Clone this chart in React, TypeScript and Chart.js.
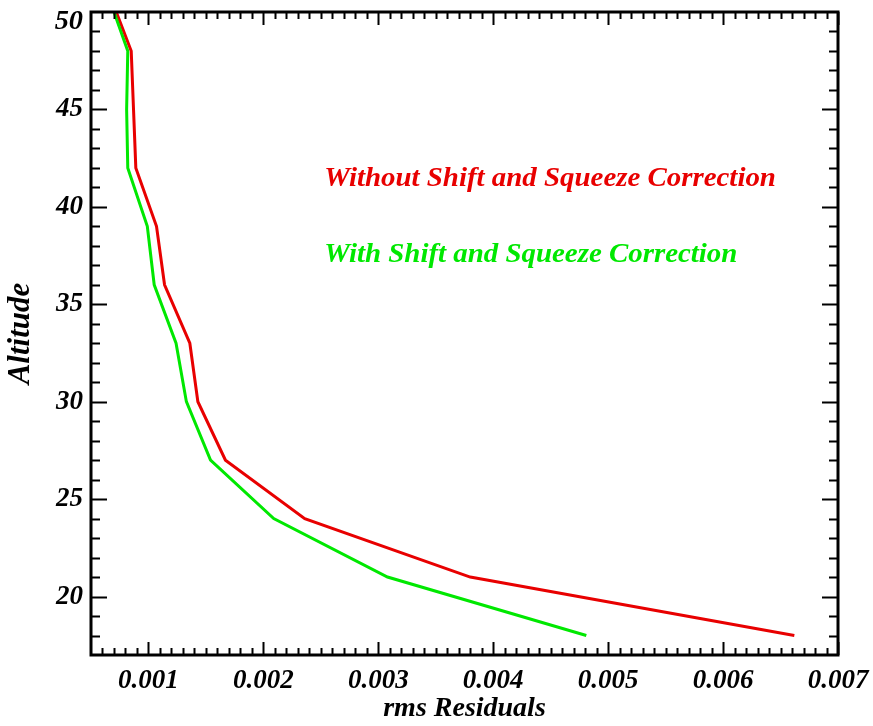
import React, { useEffect, useRef } from "react";
import { Chart, registerables } from "chart.js";

Chart.register(...registerables);

// ---- data ----
const altitudes = [50, 48, 45, 42, 39, 36, 33, 30, 27, 24, 21, 18];
const rmsWithout = [0.00072, 0.00085, 0.00087, 0.00089, 0.00107, 0.00114, 0.00136, 0.00143, 0.00167, 0.00236, 0.0038, 0.00662];
const rmsWith = [0.0007, 0.00082, 0.00081, 0.00082, 0.00099, 0.00105, 0.00124, 0.00133, 0.00154, 0.00209, 0.00308, 0.00481];

const xTickValues = [0.001, 0.002, 0.003, 0.004, 0.005, 0.006, 0.007];
const xTickLabels = ["0.001", "0.002", "0.003", "0.004", "0.005", "0.006", "0.007"];
const yTickValues = [20, 25, 30, 35, 40, 45, 50];
const yTickLabels = ["20", "25", "30", "35", "40", "45", "50"];

const xMin = 0.0005;
const xMax = 0.007;
const yMin = 17;
const yMax = 50;

const labelWithout = "Without Shift and Squeeze Correction";
const labelWith = "With Shift and Squeeze Correction";
const xTitle = "rms Residuals";
const yTitle = "Altitude";

const RED = "rgb(232,0,0)";
const GREEN = "rgb(0,232,0)";
const FAMILY = '"Liberation Serif", "Times New Roman", Times, serif';

function stretchedText(ctx: CanvasRenderingContext2D, text: string, x: number, y: number, sx: number) {
  ctx.save();
  ctx.translate(x, y);
  ctx.scale(sx, 1);
  ctx.fillText(text, 0, 0);
  ctx.restore();
}

const framePlugin = {
  id: "idlFrame",
  afterDatasetsDraw(chart: any) {
    const { ctx, chartArea, scales } = chart;
    const { left, right, top, bottom } = chartArea;
    const x = scales.x;
    const y = scales.y;
    ctx.save();
    ctx.strokeStyle = "#000";
    ctx.lineWidth = 2;
    ctx.beginPath();
    // x ticks: minor every 0.0001, major every 0.001
    for (let i = 6; i <= 70; i++) {
      const v = i / 10000;
      const px = Math.round(x.getPixelForValue(v)) + 0.5;
      const major = i % 10 === 0;
      const len = major ? 13 : 7;
      ctx.moveTo(px, bottom);
      ctx.lineTo(px, bottom - len);
      ctx.moveTo(px, top);
      ctx.lineTo(px, top + len);
    }
    // y ticks: minor every 1, major every 5
    for (let a = 18; a <= 49; a++) {
      const py = Math.round(y.getPixelForValue(a)) + 0.5;
      const major = a % 5 === 0;
      const len = major ? 16 : 9;
      ctx.moveTo(left, py);
      ctx.lineTo(left + len, py);
      ctx.moveTo(right, py);
      ctx.lineTo(right - len, py);
    }
    ctx.stroke();
    ctx.lineWidth = 3;
    ctx.strokeRect(left, top, right - left, bottom - top);

    // top y label sits below its tick in the reference
    ctx.fillStyle = "#000";
    ctx.font = `italic bold 27px ${FAMILY}`;
    ctx.textAlign = "right";
    ctx.textBaseline = "alphabetic";
    stretchedText(ctx, yTickLabels[yTickLabels.length - 1], left - 8, y.getPixelForValue(yMax) + 16.5, 1.05);

    // annotation texts
    ctx.textAlign = "left";
    ctx.fillStyle = RED;
    stretchedText(ctx, labelWithout, x.getPixelForValue(0.00253), y.getPixelForValue(41.07), 1.07);
    ctx.fillStyle = GREEN;
    stretchedText(ctx, labelWith, x.getPixelForValue(0.00253), y.getPixelForValue(37.17), 1.07);
    ctx.restore();
  },
};

export default function App() {
  const canvasRef = useRef<HTMLCanvasElement | null>(null);

  useEffect(() => {
    const canvas = canvasRef.current;
    if (!canvas) return;
    const tickFont = { family: FAMILY, size: 27, weight: "bold" as const, style: "italic" as const };
    const chart = new Chart(canvas, {
      type: "scatter",
      data: {
        datasets: [
          {
            label: labelWith,
            data: altitudes.map((a, i) => ({ x: rmsWith[i], y: a })),
            borderColor: GREEN,
            backgroundColor: GREEN,
            borderWidth: 3,
            showLine: true,
            pointRadius: 0,
            tension: 0,
            order: 0,
          },
          {
            label: labelWithout,
            data: altitudes.map((a, i) => ({ x: rmsWithout[i], y: a })),
            borderColor: RED,
            backgroundColor: RED,
            borderWidth: 3,
            showLine: true,
            pointRadius: 0,
            tension: 0,
            order: 1,
          },
        ],
      },
      options: {
        animation: false,
        responsive: false,
        devicePixelRatio: 1,
        layout: { padding: { top: 12, right: 35, left: 0, bottom: 0 } },
        plugins: {
          legend: { display: false },
          tooltip: { enabled: false },
          title: { display: false },
        },
        scales: {
          x: {
            type: "linear",
            min: xMin,
            max: xMax,
            grid: { display: false, drawTicks: false },
            border: { display: false },
            afterBuildTicks: (s: any) => {
              s.ticks = xTickValues.map((v) => ({ value: v }));
            },
            afterFit: (s: any) => {
              s.height = 71;
              s.paddingLeft = 0;
              s.paddingRight = 0;
            },
            ticks: {
              autoSkip: false,
              maxRotation: 0,
              minRotation: 0,
              padding: 10,
              color: "#000",
              font: tickFont,
              callback: (_v: any, i: number) => xTickLabels[i],
            },
            title: {
              display: true,
              text: xTitle,
              color: "#000",
              font: { family: FAMILY, size: 28, weight: "bold", style: "italic" },
              padding: { top: 0, bottom: 0 },
              align: "center",
            },
          },
          y: {
            type: "linear",
            min: yMin,
            max: yMax,
            grid: { display: false, drawTicks: false },
            border: { display: false },
            afterBuildTicks: (s: any) => {
              s.ticks = yTickValues.map((v) => ({ value: v }));
            },
            afterFit: (s: any) => {
              s.width = 91;
              s.paddingTop = 0;
              s.paddingBottom = 0;
            },
            ticks: {
              autoSkip: false,
              padding: 8,
              color: "#000",
              font: tickFont,
              callback: (_v: any, i: number) => (i === yTickLabels.length - 1 ? "" : yTickLabels[i]),
            },
            title: {
              display: true,
              text: yTitle,
              color: "#000",
              font: { family: FAMILY, size: 31, weight: "bold", style: "italic" },
              padding: { top: 2, bottom: 0 },
            },
          },
        },
      },
      plugins: [framePlugin],
    });
    return () => chart.destroy();
  }, []);

  return (
    <div style={{ position: "fixed", left: 0, top: 0, width: 873, height: 726, background: "#fff" }}>
      <canvas ref={canvasRef} width={873} height={726} />
    </div>
  );
}
